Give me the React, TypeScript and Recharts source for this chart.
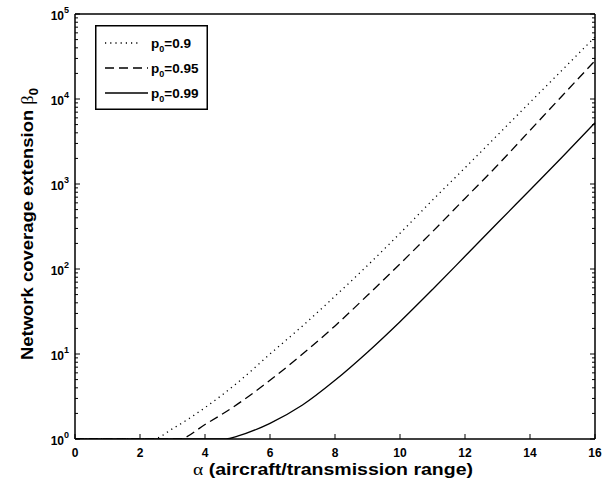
import React from "react";
import { LineChart, Line, XAxis, YAxis, Legend } from "recharts";

// alpha (x) and beta_0 (y), one pair of arrays per curve
const alphaP90 = [0, 2.4, 3, 4, 5, 6, 7, 8, 9, 10, 11, 12, 13, 14, 15, 16];
const betaP90 = [1, 1, 1.32, 2.34, 4.6, 10, 21.4, 47.9, 110, 263, 646, 1550, 3760, 9120, 22100, 53700];

const alphaP95 = [0, 3.2, 4, 5, 6, 7, 8, 9, 10, 11, 12, 13, 14, 15, 16];
const betaP95 = [1, 1, 1.48, 2.57, 4.9, 10, 21.4, 49, 115, 275, 676, 1660, 4270, 11000, 28200];

const alphaP99 = [0, 4.65, 5, 6, 7, 8, 9, 10, 11, 12, 13, 14, 15, 16];
const betaP99 = [1, 1, 1.08, 1.53, 2.51, 4.9, 10.5, 24, 57.5, 141, 347, 851, 2090, 5250];

const xTicks = [0, 2, 4, 6, 8, 10, 12, 14, 16];
const decades = [1, 10, 100, 1000, 10000];
const yTicks = [...decades.flatMap((d) => [1, 2, 3, 4, 5, 6, 7, 8, 9].map((m) => m * d)), 100000];

const legendItems = [
  { label: "0.9", dash: "1.2 4" },
  { label: "0.95", dash: "9 5" },
  { label: "0.99", dash: undefined },
];

const toRows = (xs: number[], ys: number[]) => xs.map((a, i) => ({ a, b: ys[i] }));
const p90 = toRows(alphaP90, betaP90);
const p95 = toRows(alphaP95, betaP95);
const p99 = toRows(alphaP99, betaP99);

const FONT = "'Liberation Sans', Arial, Helvetica, sans-serif";

const isDecade = (v: number) => Math.abs(Math.log10(v) - Math.round(Math.log10(v))) < 1e-9;

function LeftTick({ x, y, payload }: any) {
  const v = payload.value;
  const major = isDecade(v);
  return (
    <g>
      <line x1={x} x2={x + (major ? 5 : 3)} y1={y} y2={y} stroke="#000" />
      {major && (
        <text x={x - 6} y={y + 6} textAnchor="end" fontFamily={FONT} fontWeight="bold" fontSize={12} fill="#000">
          10
          <tspan dy={-7} fontSize={9}>
            {Math.round(Math.log10(v))}
          </tspan>
        </text>
      )}
    </g>
  );
}

function RightTick({ x, y, payload }: any) {
  const major = isDecade(payload.value);
  return <line x1={x} x2={x - (major ? 5 : 3)} y1={y} y2={y} stroke="#000" />;
}

function BottomTick({ x, y, payload }: any) {
  return (
    <g>
      <line x1={x} x2={x} y1={y} y2={y - 5} stroke="#000" />
      <text x={x} y={y + 18} textAnchor="middle" fontFamily={FONT} fontWeight="bold" fontSize={12} fill="#000">
        {payload.value}
      </text>
    </g>
  );
}

function TopTick({ x, y }: any) {
  return <line x1={x} x2={x} y1={y} y2={y + 5} stroke="#000" />;
}

function LegendBox() {
  return (
    <svg width={113} height={85} style={{ display: "block" }}>
      <rect x={0.75} y={0.75} width={111.5} height={83.5} fill="#fff" stroke="#000" strokeWidth={1.5} />
      {legendItems.map((it, i) => {
        const cy = 18 + i * 25;
        return (
          <g key={it.label}>
            <line x1={10} x2={i === 0 ? 46 : 53} y1={cy} y2={cy} stroke="#000" strokeWidth={1.3} strokeDasharray={it.dash} />
            <text x={56} y={cy + 5} fontFamily={FONT} fontWeight="bold" fontSize={13.5} fill="#000">
              p
              <tspan dy={4} fontSize={9}>0</tspan>
              <tspan dy={-4}>={it.label}</tspan>
            </text>
          </g>
        );
      })}
    </svg>
  );
}

export default function App() {
  const axisLine = { stroke: "#000", strokeWidth: 1.5 };
  return (
    <div style={{ position: "absolute", left: 0, top: 0, width: 603, height: 486 }}>
      <LineChart width={603} height={486} margin={{ top: 13, right: 7, bottom: 0, left: 0 }}>
        <XAxis
          xAxisId="bottom"
          type="number"
          dataKey="a"
          domain={[0, 16]}
          ticks={xTicks}
          interval={0}
          height={47}
          tickSize={0}
          tickMargin={0}
          tickLine={false}
          axisLine={axisLine}
          tick={(p: any) => <BottomTick {...p} />}
        />
        <XAxis
          xAxisId="top"
          orientation="top"
          type="number"
          domain={[0, 16]}
          ticks={xTicks}
          interval={0}
          height={1}
          tickSize={0}
          tickMargin={0}
          tickLine={false}
          axisLine={axisLine}
          tick={(p: any) => <TopTick {...p} />}
        />
        <YAxis
          yAxisId="left"
          type="number"
          scale="log"
          domain={[1, 100000]}
          allowDataOverflow
          ticks={yTicks}
          interval={0}
          width={75}
          tickSize={0}
          tickMargin={0}
          tickLine={false}
          axisLine={axisLine}
          tick={(p: any) => <LeftTick {...p} />}
        />
        <YAxis
          yAxisId="right"
          orientation="right"
          type="number"
          scale="log"
          domain={[1, 100000]}
          allowDataOverflow
          ticks={yTicks}
          interval={0}
          width={1}
          tickSize={0}
          tickMargin={0}
          tickLine={false}
          axisLine={axisLine}
          tick={(p: any) => <RightTick {...p} />}
        />
        <Line data={p90} dataKey="b" xAxisId="bottom" yAxisId="left" type="monotone" stroke="#000" strokeWidth={1.3} strokeDasharray="1.2 4" dot={false} activeDot={false} isAnimationActive={false} />
        <Line data={p95} dataKey="b" xAxisId="bottom" yAxisId="left" type="monotone" stroke="#000" strokeWidth={1.3} strokeDasharray="9 5" dot={false} activeDot={false} isAnimationActive={false} />
        <Line data={p99} dataKey="b" xAxisId="bottom" yAxisId="left" type="monotone" stroke="#000" strokeWidth={1.3} dot={false} activeDot={false} isAnimationActive={false} />
        <Legend
          layout="vertical"
          align="center"
          verticalAlign="middle"
          content={() => <LegendBox />}
          wrapperStyle={{ position: "absolute", left: 95, top: 25, width: 113, height: 85 }}
        />
        <text x={333} y={475} textAnchor="middle" fontFamily={FONT} fontWeight="bold" fontSize={16} textLength={280} lengthAdjust="spacingAndGlyphs" fill="#000">
          <tspan fontFamily="'Liberation Serif', serif" fontWeight="normal">α</tspan> (aircraft/transmission range)
        </text>
        <text
          transform="translate(33,224) rotate(-90)"
          textAnchor="middle"
          fontFamily={FONT}
          fontWeight="bold"
          fontSize={17}
          textLength={272}
          lengthAdjust="spacingAndGlyphs"
          fill="#000"
        >
          Network coverage extension{" "}
          <tspan fontFamily="'Liberation Serif', serif" fontWeight="normal">β</tspan>
          <tspan dy={5} fontSize={12}>0</tspan>
        </text>
      </LineChart>
    </div>
  );
}
